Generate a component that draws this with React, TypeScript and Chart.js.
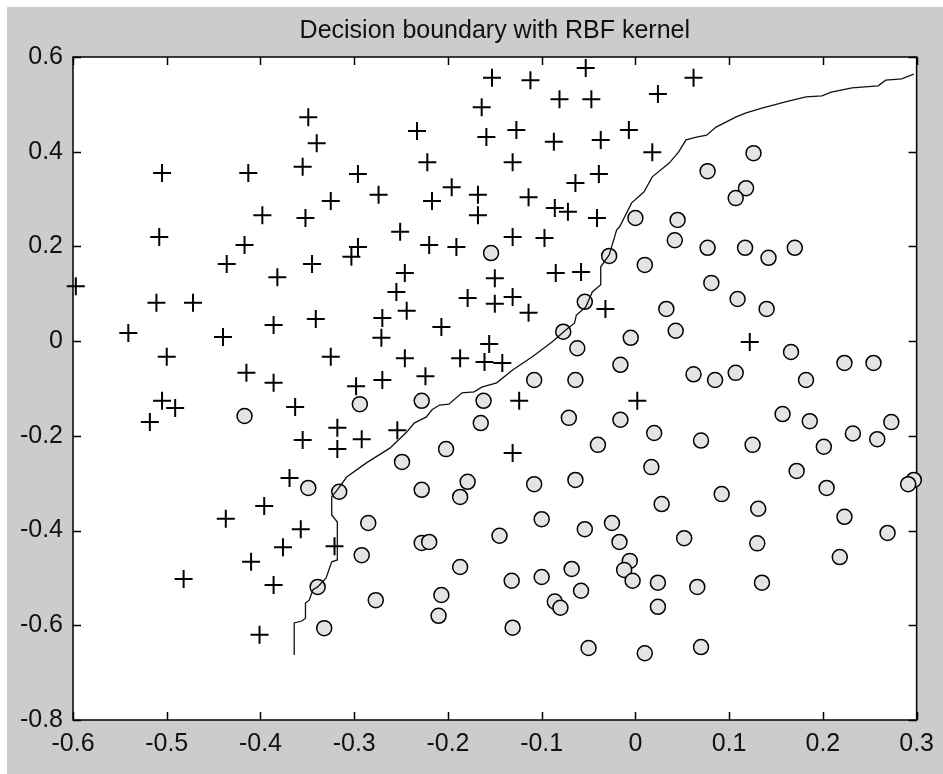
import React, { useEffect, useRef } from 'react';
import { Chart, registerables } from 'chart.js';
Chart.register(...registerables);

const titleText = 'Decision boundary with RBF kernel';
const xTicks = [-0.6, -0.5, -0.4, -0.3, -0.2, -0.1, 0, 0.1, 0.2, 0.3];
const xTickLabels = ['-0.6', '-0.5', '-0.4', '-0.3', '-0.2', '-0.1', '0', '0.1', '0.2', '0.3'];
const yTicks = [-0.8, -0.6, -0.4, -0.2, 0, 0.2, 0.4, 0.6];
const yTickLabels = ['-0.8', '-0.6', '-0.4', '-0.2', '0', '0.2', '0.4', '0.6'];

const plusX = [
  -0.597, -0.436, -0.382, -0.345, -0.511, -0.472, -0.541, -0.44, -0.386, -0.341,
  -0.5, -0.415, -0.386, -0.505, -0.491, -0.518, -0.363, -0.355, -0.369, -0.396,
  -0.437, -0.357, -0.376, -0.41, -0.482, -0.386, -0.401, -0.321, -0.349, -0.34,
  -0.505, -0.413, -0.355, -0.398, -0.352, -0.508, -0.417, -0.153, -0.112, -0.053,
  -0.164, -0.081, -0.047, -0.233, -0.159, -0.127, -0.087, -0.037, -0.222, -0.131,
  -0.296, -0.064, -0.039, -0.196, -0.325, -0.274, -0.217, -0.168, -0.168, -0.114,
  -0.086, -0.072, -0.041, -0.251, -0.296, -0.22, -0.191, -0.131, -0.097, 0.062,
  0.024, -0.007, 0.018, -0.303, -0.246, -0.255, -0.15, -0.085, -0.058, -0.179,
  -0.15, -0.131, -0.114, -0.032, -0.27, -0.244, -0.271, -0.207, -0.156, -0.325,
  -0.246, -0.187, -0.161, -0.142, -0.298, -0.27, -0.224, -0.124, -0.318, -0.318,
  -0.292, -0.254, -0.131, 0.122, 0.002,
];
const plusY = [
  0.116, 0.163, 0.135, 0.163, 0.081, 0.081, 0.017, 0.009, 0.034, 0.047,
  -0.033, -0.067, -0.088, -0.126, -0.141, -0.171, -0.139, -0.209, -0.289, -0.348,
  -0.375, -0.397, -0.435, -0.466, -0.502, -0.515, -0.62, -0.433, 0.473, 0.418,
  0.355, 0.355, 0.368, 0.266, 0.26, 0.22, 0.203, 0.556, 0.551, 0.577,
  0.494, 0.511, 0.511, 0.444, 0.431, 0.446, 0.421, 0.425, 0.378, 0.378,
  0.353, 0.334, 0.353, 0.325, 0.296, 0.309, 0.296, 0.309, 0.266, 0.304,
  0.281, 0.273, 0.26, 0.231, 0.199, 0.203, 0.199, 0.22, 0.218, 0.556,
  0.522, 0.446, 0.399, 0.178, 0.144, 0.104, 0.133, 0.144, 0.146, 0.091,
  0.079, 0.093, 0.06, 0.068, 0.049, 0.064, 0.007, 0.03, -0.006, -0.033,
  -0.036, -0.036, -0.044, -0.046, -0.095, -0.082, -0.074, -0.126, -0.183, -0.228,
  -0.207, -0.188, -0.236, -0.002, -0.126,
];

const circleX = [
  -0.417, -0.349, -0.339, -0.154, -0.028, -0.054, -0.077, -0.062, -0.016, -0.108,
  -0.064, -0.294, -0.228, -0.162, -0.165, -0.071, -0.016, -0.04, -0.202, -0.249,
  -0.316, -0.228, -0.179, -0.187, -0.108, -0.064, 0.126, 0.077, 0.118, 0.107,
  0.0, 0.045, 0.042, 0.077, 0.117, 0.142, 0.17, 0.01, 0.081, 0.109,
  0.14, 0.033, 0.043, -0.005, 0.166, 0.062, 0.085, 0.107, 0.182, 0.223,
  0.254, 0.157, 0.186, 0.02, 0.07, 0.125, 0.201, 0.232, 0.258, 0.273,
  0.017, 0.172, 0.092, 0.204, 0.297, 0.291, 0.028, 0.131, -0.285, -0.292,
  -0.277, -0.332, -0.228, -0.22, -0.187, -0.207, -0.21, -0.145, -0.1, -0.132,
  -0.1, -0.131, -0.054, -0.068, -0.058, -0.086, -0.08, -0.05, -0.025, -0.017,
  -0.006, -0.012, -0.003, 0.024, 0.066, 0.135, 0.024, 0.01, 0.07, 0.223,
  0.269, 0.052, 0.13, 0.218,
];
const circleY = [
  -0.158, -0.31, -0.519, 0.186, 0.18, 0.083, 0.02, -0.015, -0.05, -0.082,
  -0.082, -0.133, -0.126, -0.126, -0.173, -0.162, -0.166, -0.219, -0.228, -0.255,
  -0.318, -0.314, -0.297, -0.329, -0.302, -0.293, 0.397, 0.359, 0.323, 0.302,
  0.26, 0.256, 0.213, 0.197, 0.197, 0.176, 0.197, 0.161, 0.123, 0.089,
  0.068, 0.068, 0.022, 0.007, -0.023, -0.07, -0.082, -0.067, -0.082, -0.046,
  -0.046, -0.154, -0.169, -0.194, -0.21, -0.219, -0.223, -0.195, -0.207, -0.171,
  -0.266, -0.274, -0.323, -0.31, -0.293, -0.302, -0.344, -0.354, -0.384, -0.452,
  -0.547, -0.606, -0.426, -0.424, -0.477, -0.536, -0.58, -0.411, -0.376, -0.506,
  -0.498, -0.605, -0.397, -0.481, -0.527, -0.55, -0.563, -0.648, -0.384, -0.424,
  -0.464, -0.483, -0.506, -0.51, -0.519, -0.51, -0.561, -0.659, -0.646, -0.371,
  -0.405, -0.416, -0.427, -0.456,
];

const boundaryX = [
  -0.364, -0.364, -0.356, -0.352, -0.352, -0.348, -0.344, -0.339, -0.33, -0.324,
  -0.318, -0.318, -0.324, -0.324, -0.318, -0.308, -0.287, -0.262, -0.244, -0.236,
  -0.223, -0.217, -0.209, -0.199, -0.185, -0.172, -0.164, -0.148, -0.131, -0.11,
  -0.089, -0.074, -0.065, -0.063, -0.053, -0.046, -0.037, -0.037, -0.028, -0.02,
  -0.017, -0.004, 0.009, 0.018, 0.036, 0.046, 0.054, 0.065, 0.076, 0.086,
  0.107, 0.118, 0.135, 0.16, 0.182, 0.199, 0.209, 0.231, 0.259, 0.267,
  0.284, 0.297,
];
const boundaryY = [
  -0.663, -0.595, -0.591, -0.585, -0.553, -0.547, -0.525, -0.519, -0.5, -0.466,
  -0.462, -0.382, -0.367, -0.329, -0.314, -0.287, -0.257, -0.226, -0.192, -0.173,
  -0.16, -0.145, -0.135, -0.133, -0.109, -0.107, -0.097, -0.088, -0.061, -0.033,
  -0.002, 0.024, 0.038, 0.055, 0.072, 0.104, 0.119, 0.157, 0.182, 0.235,
  0.241, 0.292, 0.315, 0.347, 0.376, 0.399, 0.425, 0.431, 0.435, 0.452,
  0.473, 0.482, 0.492, 0.505, 0.516, 0.518, 0.526, 0.535, 0.539, 0.551,
  0.554, 0.564,
];

const FONT = 'Liberation Sans, Arial, Helvetica, sans-serif';

const framePlugin = {
  id: 'matlabFrame',
  beforeDraw(chart: any) {
    const { ctx, chartArea: a, width, height } = chart;
    ctx.save();
    ctx.fillStyle = '#cccccc';
    ctx.fillRect(0, 0, width, height);
    ctx.fillStyle = '#ffffff';
    ctx.fillRect(a.left, a.top, a.right - a.left, a.bottom - a.top);
    ctx.restore();
  },
  beforeDatasetsDraw(chart: any) {
    const { ctx, chartArea: a, scales } = chart;
    const tl = 8;
    ctx.save();
    ctx.strokeStyle = '#000000';
    ctx.lineWidth = 1.5;
    ctx.strokeRect(a.left, a.top, a.right - a.left, a.bottom - a.top);
    ctx.beginPath();
    xTicks.forEach((v) => {
      const px = Math.round(scales.x.getPixelForValue(v)) + 0.5;
      ctx.moveTo(px, a.bottom);
      ctx.lineTo(px, a.bottom - tl);
      ctx.moveTo(px, a.top);
      ctx.lineTo(px, a.top + tl);
    });
    yTicks.forEach((v) => {
      const py = Math.round(scales.y.getPixelForValue(v)) + 0.5;
      ctx.moveTo(a.left, py);
      ctx.lineTo(a.left + tl, py);
      ctx.moveTo(a.right, py);
      ctx.lineTo(a.right - tl, py);
    });
    ctx.stroke();
    ctx.restore();
  },
};

export default function App() {
  const ref = useRef<HTMLCanvasElement>(null);
  useEffect(() => {
    document.body.style.margin = '0';
    const canvas = ref.current!;
    const chart = new Chart(canvas, {
      type: 'scatter',
      data: {
        datasets: [
          {
            label: 'boundary',
            data: boundaryX.map((x, i) => ({ x, y: boundaryY[i] })),
            showLine: true,
            borderColor: '#111111',
            borderWidth: 1.3,
            pointRadius: 0,
            fill: false,
            clip: false as any,
          },
          {
            label: 'class +1',
            data: plusX.map((x, i) => ({ x, y: plusY[i] })),
            pointStyle: 'cross',
            pointRadius: 9,
            pointBorderColor: '#000000',
            pointBorderWidth: 2,
            borderColor: '#000000',
            clip: false as any,
          },
          {
            label: 'class -1',
            data: circleX.map((x, i) => ({ x, y: circleY[i] })),
            pointStyle: 'circle',
            pointRadius: 7.5,
            pointBackgroundColor: '#e4e4e4',
            pointBorderColor: '#000000',
            pointBorderWidth: 1.5,
            backgroundColor: '#e4e4e4',
            borderColor: '#000000',
            clip: false as any,
          },
        ],
      },
      options: {
        responsive: false,
        animation: false,
        devicePixelRatio: 1,
        events: [],
        layout: { padding: { left: 0, right: 25, top: 0, bottom: 0 } },
        plugins: {
          legend: { display: false },
          tooltip: { enabled: false },
          title: {
            display: true,
            fullSize: false,
            text: titleText,
            color: '#111111',
            font: { family: FONT, size: 25, weight: 'normal', lineHeight: 1.2 },
            padding: { top: 9, bottom: 11 },
          },
        },
        scales: {
          x: {
            type: 'linear',
            min: -0.6,
            max: 0.3,
            grid: { display: false, drawTicks: false },
            border: { display: false },
            afterBuildTicks: (s: any) => {
              s.ticks = xTicks.map((v) => ({ value: v }));
            },
            afterFit: (s: any) => {
              s.height = 54;
            },
            ticks: {
              autoSkip: false,
              maxRotation: 0,
              padding: 9,
              color: '#111111',
              font: { family: FONT, size: 25 },
              callback: (_v: any, i: number) => xTickLabels[i],
            },
          },
          y: {
            type: 'linear',
            min: -0.8,
            max: 0.6,
            grid: { display: false, drawTicks: false },
            border: { display: false },
            afterBuildTicks: (s: any) => {
              s.ticks = yTicks.map((v) => ({ value: v }));
            },
            afterFit: (s: any) => {
              s.width = 66;
            },
            ticks: {
              autoSkip: false,
              padding: 10,
              color: '#111111',
              font: { family: FONT, size: 25 },
              callback: (_v: any, i: number) => yTickLabels[i],
            },
          },
        },
      } as any,
      plugins: [framePlugin],
    });
    return () => chart.destroy();
  }, []);
  return (
    <div style={{ position: 'absolute', left: 7, top: 7, width: 936, height: 767 }}>
      <canvas ref={ref} width={936} height={767} style={{ width: 936, height: 767, display: 'block' }} />
    </div>
  );
}
